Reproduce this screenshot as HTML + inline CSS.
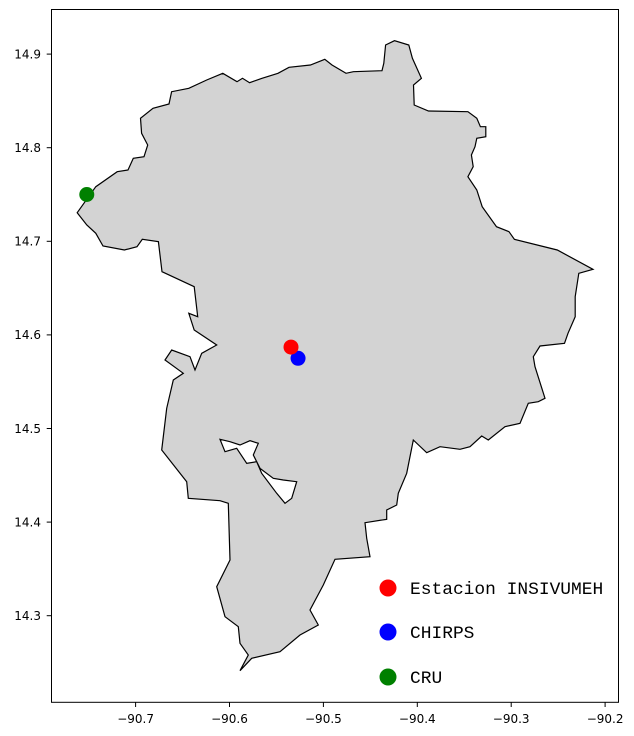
<!DOCTYPE html>
<html><head><meta charset="utf-8"><style>
html,body{margin:0;padding:0;background:#fff;width:634px;height:736px;overflow:hidden}
svg text{font-family:"DejaVu Sans","Liberation Sans",sans-serif;font-size:12px;fill:#000}
.leg{font-family:"Liberation Mono",monospace;font-size:17.9px}
</style></head><body>
<svg id="chart" width="634" height="736" viewBox="0 0 634 736">
<g id="map">
<path fill="#d3d3d3" stroke="#000" stroke-width="1.2" fill-rule="evenodd" d="
M77.2,212.7 L86.8,225 L95.8,233.3 L103,246 L124.4,250 L137,246.7 L142.3,239.3 L158.4,241.7 L162,271.7 L194.2,286.7 L197.7,316.7 L188.8,313.3 L194.2,330 L216.7,345 L201.7,353.3 L195,370 L190,356.7 L171.7,350 L165,360 L183.3,373.3 L173.3,380 L166.7,408.3 L161.7,450 L186.7,481.7 L188.3,498.3 L220,500.7 L228.3,503.3 L230,560 L216.7,586.7 L225,616.7 L238.3,626.7 L240,643.3 L248.3,655 L240,670.7 L251.7,658.3 L280,651.7 L300,635 L318.3,625 L310,610 L323.3,585 L335,559.3 L370,556.7 L366.7,538.3 L365,522.7 L386.7,519.3 L386.7,510 L396.7,505 L398.3,493.3 L406.7,473.3 L413.3,440 L426.7,452.7 L440,446.7 L460,449.3 L470,446.7 L481.7,436 L488.3,440 L505,426.7 L520,423.3 L528.3,403.3 L538.3,401.7 L545,398.3 L535,366.7 L533.3,356.7 L540,346 L564.5,343.3 L568,333.3 L575.2,316.7 L575.2,296.7 L578.8,273.3 L593,269.3 L557.3,250 L514.4,239.3 L509,231.7 L496.5,226.7 L482.2,206.7 L476.8,190 L467.9,176.7 L473.2,166.7 L471.4,155 L475,146.7 L476.8,138.3 L485.8,136.7 L485.8,126.7 L480.4,126.7 L476.8,118.3 L467.9,111.7 L428.5,111 L414.2,105 L413.5,85 L421.4,78.3 L412.4,58.3 L408.8,45 L394.5,40.7 L385.6,45 L383.8,63.3 L382,70.7 L353.4,71.7 L346,73.3 L332,65 L324.8,59.3 L310.4,65 L289,67.3 L278,73.3 L262,78.3 L249.6,82.7 L242.5,78.3 L237,81.7 L222.8,73.3 L206.7,80 L188.8,88.3 L171.6,91.7 L169,104 L153,108.3 L140.5,118.3 L141.6,133.3 L147.7,145 L144,156.7 L133.3,158.3 L128,170 L117.2,171.7 L95.8,186.7 Z
M220,439.3 L230,441.7 L240,445 L250,440.7 L258.3,443.3 L253.3,455 L260,468.3 L273.3,478.3 L283.3,480 L296.7,481.7 L291.7,498.3 L285,503.3 L276.7,493.3 L261.7,473.3 L256.7,461.7 L246.7,463.3 L236.7,448.3 L225,451.7 Z"/>
</g>
<g id="points"></g>
<rect x="51.5" y="9.5" width="567" height="692.8" fill="none" stroke="#000" stroke-width="1"/>
<g id="xaxis"></g>
<g id="yaxis"></g>
<g id="legend"></g>
</svg>
<script>
const seriesNames = ["Estacion INSIVUMEH", "CHIRPS", "CRU"];
const seriesColors = ["#ff0000", "#0000ff", "#008000"];
const lons = [-90.5345, -90.527, -90.752];
const lats = [14.587, 14.575, 14.750];
const xTicks = [-90.7, -90.6, -90.5, -90.4, -90.3, -90.2];
const yTicks = [14.3, 14.4, 14.5, 14.6, 14.7, 14.8, 14.9];

const NS = "http://www.w3.org/2000/svg";
function xs(lon){ return 135.6 + (lon + 90.7) * 939; }
function ys(lat){ return 615.7 - (lat - 14.3) * 936; }
function mk(tag, attrs, parent){ const e = document.createElementNS(NS, tag); for (const k in attrs) e.setAttribute(k, attrs[k]); parent.appendChild(e); return e; }

const pts = document.getElementById("points");
[1,0,2].forEach(i => {
  const c = mk("circle", {cx: xs(lons[i]), cy: ys(lats[i]), r: 7.5, fill: seriesColors[i]}, pts);
  
  
});

const xa = document.getElementById("xaxis");
xTicks.forEach(v => {
  const x = xs(v);
  const l = mk("line", {x1: x, x2: x, y1: 702.3, y2: 707, stroke: "#000", "stroke-width": 1}, xa);
  
  
  const t = mk("text", {x: x, y: 723, "text-anchor": "middle"}, xa);
  t.textContent = "\u2212" + Math.abs(v).toFixed(1);
  
  
});
const ya = document.getElementById("yaxis");
yTicks.forEach(v => {
  const y = ys(v);
  const l = mk("line", {x1: 46.7, x2: 51.5, y1: y, y2: y, stroke: "#000", "stroke-width": 1}, ya);
  
  
  const t = mk("text", {x: 41, y: y + 4.3, "text-anchor": "end"}, ya);
  t.textContent = v.toFixed(1);
  
  
});

const lg = document.getElementById("legend");
const legY = [588, 632, 677];
seriesNames.forEach((n, i) => {
  const c = mk("circle", {cx: 388, cy: legY[i], r: 8.5, fill: seriesColors[i]}, lg);
  
  
  const t = mk("text", {x: 410, y: legY[i] + 6, "class": "leg"}, lg);
  t.textContent = n;
  
  
});
</script>
</body></html>
